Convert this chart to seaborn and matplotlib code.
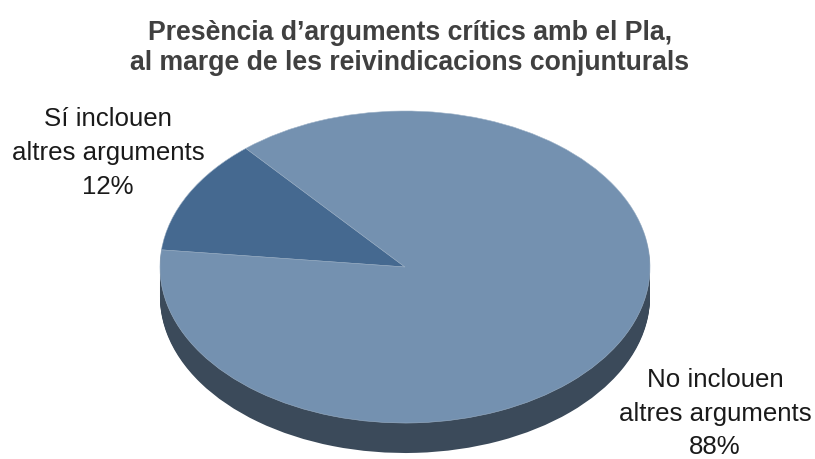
import matplotlib
matplotlib.use("Agg")
import matplotlib.pyplot as plt
import seaborn as sns

sns.set_theme(style="white")
plt.rcParams['font.family'] = ['Liberation Sans', 'DejaVu Sans']

title_lines = ["Presència d’arguments crítics amb el Pla,", "al marge de les reivindicacions conjunturals"]
categories = ["Sí inclouen\naltres arguments\n12%", "No inclouen\naltres arguments\n88%"]
shares = [12, 88]
top_colors = ["#456990", "#7491B0"]
side_colors = ["#2F4254", "#3B4A5A"]

W, H = 815, 460
fig = plt.figure(figsize=(W / 100, H / 100), dpi=100, facecolor="white")
ax = fig.add_axes([0, 0, 1, 1])

# pie is drawn flat, the axis scales squash it to an ellipse
cx, cy = 405, 268
rx, ry = 245, 156
depth = 30 / ry

# side wall first, a stack of dark pies going down
for i in range(30, 0, -1):
    ax.pie(shares, colors=side_colors, startangle=130.5, radius=1,
           center=(0, -depth * i / 30), wedgeprops={"linewidth": 0}, frame=False)

ax.pie(shares, colors=top_colors, startangle=130.5, radius=1, center=(0, 0),
       wedgeprops={"linewidth": 0.4, "edgecolor": "#9DB2C8"}, frame=False)

ax.set_aspect("auto")
ax.set_xlim(-cx / rx, (W - cx) / rx)
ax.set_ylim(-(H - cy) / ry, cy / ry)
ax.axis("off")

fig.text(410 / W, 1 - 48 / H, "\n".join(title_lines), ha="center", va="center",
         fontsize=19.2, fontweight="bold", color="#404040", linespacing=1.17)
fig.text(108 / W, 1 - 153 / H, categories[0], ha="center", va="center",
         fontsize=18.6, color="#1A1A1A", linespacing=1.53)
fig.text(715 / W, 1 - 414 / H, categories[1], ha="center", va="center",
         fontsize=18.6, color="#1A1A1A", linespacing=1.5)

fig.savefig("out.png", dpi=100)
